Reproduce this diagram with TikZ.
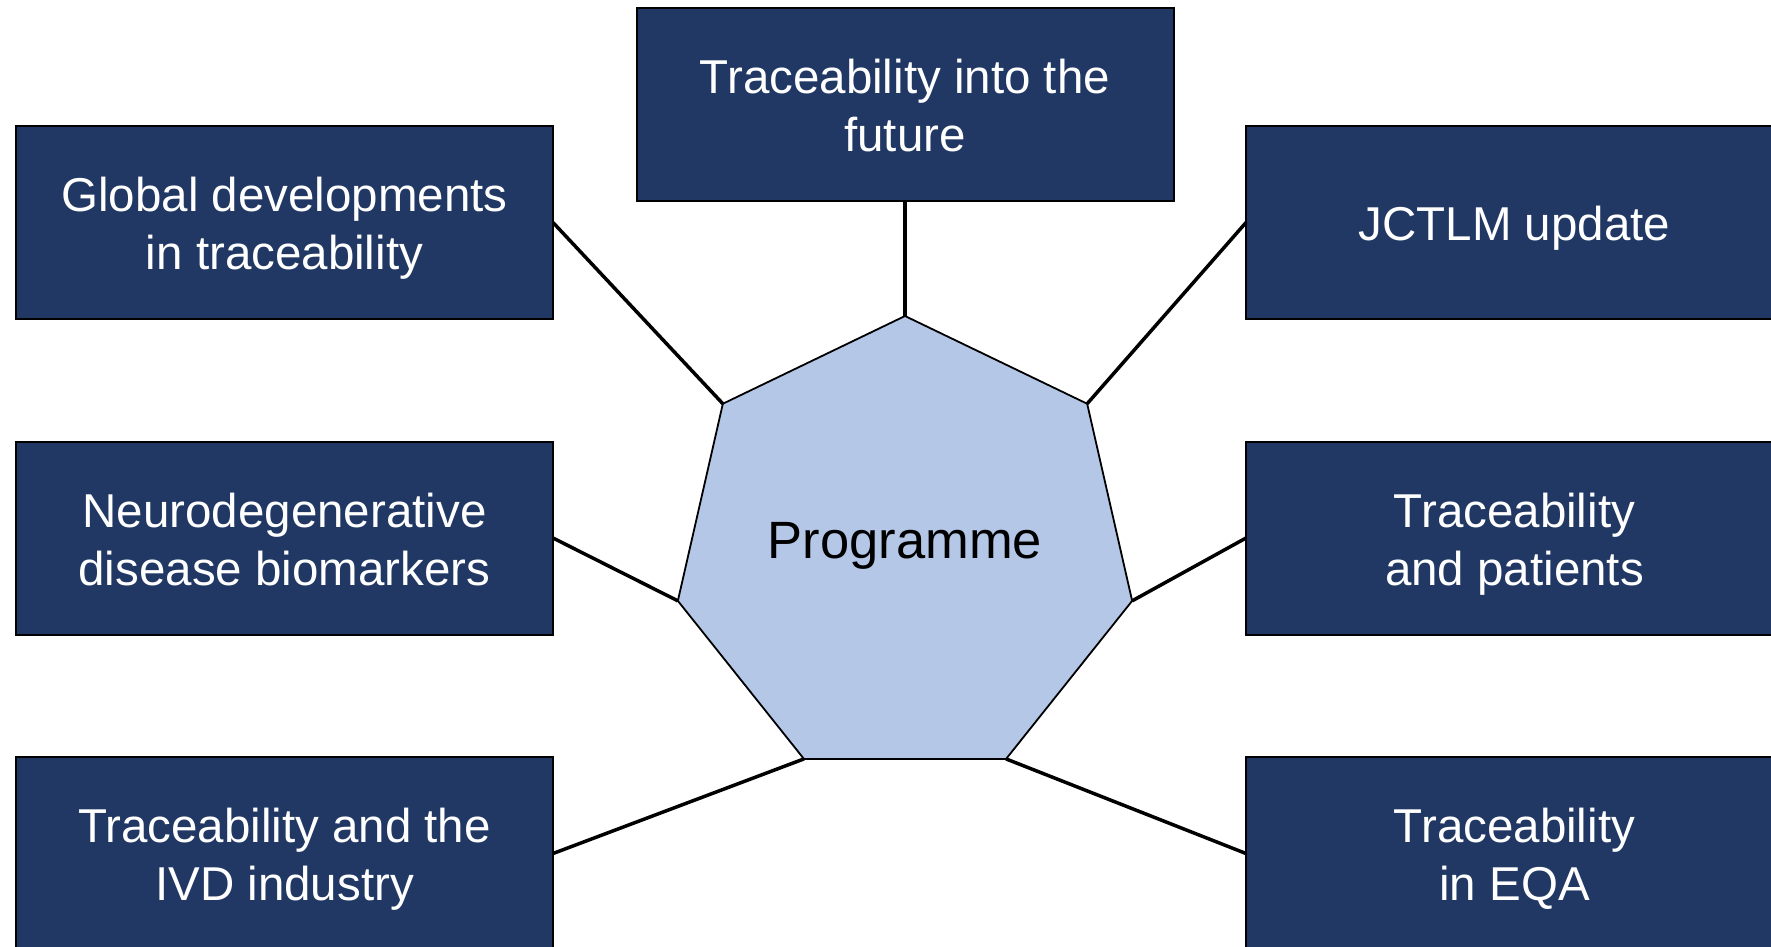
\documentclass[tikz,border=0pt]{standalone}
\usepackage{fontspec}
\setmainfont{Liberation Sans}
\usetikzlibrary{shapes.geometric}
\definecolor{navy}{HTML}{213864}
\definecolor{lightblue}{HTML}{B4C7E7}
\newcommand{\boxtext}[1]{\raisebox{-13pt}[0pt][0pt]{\begin{tabular}{@{}c@{}}#1\end{tabular}}}
\tikzset{
  topic/.style={draw=black, line width=2pt, fill=navy, text=white,
    minimum width=537pt, minimum height=193pt, inner sep=0pt, outer sep=0pt,
    font=\fontsize{47.5pt}{58pt}\selectfont},
  hub/.style={draw=black, line width=1.8pt, fill=lightblue, regular polygon,
    regular polygon sides=7, minimum size=466pt, inner sep=0pt, outer sep=0pt,
    font=\fontsize{52.5pt}{60pt}\selectfont},
  link/.style={draw=black, line width=3.5pt}
}
\begin{document}
\begin{tikzpicture}[x=1pt,y=-1pt]
\useasboundingbox (0,0) rectangle (1771,946);
\clip (0,0) rectangle (1771,946);
\fill[white] (0,0) rectangle (1771,946);
\node[hub] (prog) at (905,549) {\raisebox{-9.2pt}[0pt][0pt]{Programme}};
\node[topic] (top) at (905,104.5) {\boxtext{Traceability into the\\future}};
\node[topic] (lt) at (284.5,222.5) {\boxtext{Global developments\\in traceability}};
\node[topic] (lm) at (284.5,538) {\boxtext{Neurodegenerative\\disease biomarkers}};
\node[topic] (lb) at (284.5,853.5) {\boxtext{Traceability and the\\IVD industry}};
\node[topic] (rt) at (1514.5,222.5) {\boxtext{JCTLM update}};
\node[topic] (rm) at (1514.5,538) {\boxtext{Traceability\\and patients}};
\node[topic] (rb) at (1514.5,853.5) {\boxtext{Traceability\\in EQA}};
\draw[link] (top.south) -- (prog.corner 1);
\draw[link] (lt.east) -- (prog.corner 2);
\draw[link] (lm.east) -- (prog.corner 3);
\draw[link] (lb.east) -- (prog.corner 4);
\draw[link] (rb.west) -- (prog.corner 5);
\draw[link] (rm.west) -- (prog.corner 6);
\draw[link] (rt.west) -- (prog.corner 7);
\end{tikzpicture}
\end{document}
